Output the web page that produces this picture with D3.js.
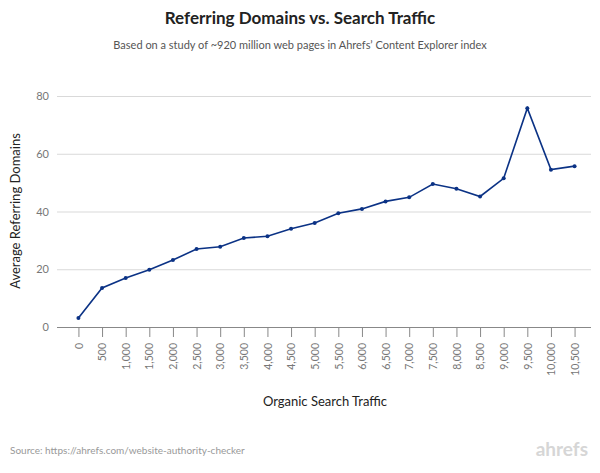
<!DOCTYPE html>
<html lang="en">
<head>
<meta charset="UTF-8">
<title>Referring Domains vs. Search Traffic</title>
<script src="https://d3js.org/d3.v7.min.js"></script>
<style>
    body { margin: 0; background: #fff; font-family: Lato, "Open Sans", sans-serif; }
</style>
</head>
<body>
<script>
    // chart data
    const traffic = [0, 500, 1000, 1500, 2000, 2500, 3000, 3500, 4000, 4500, 5000,
        5500, 6000, 6500, 7000, 7500, 8000, 8500, 9000, 9500, 10000, 10500];
    const domains = [3.1, 13.5, 17, 19.8, 23.2, 27, 27.8, 30.8, 31.4, 34, 36,
        39.4, 40.9, 43.5, 44.9, 49.5, 47.9, 45.2, 51.5, 75.8, 54.5, 55.7];
    const yTicks = [0, 20, 40, 60, 80];

    const width = 600, height = 473;
    const svg = d3.select("body").append("svg")
        .attr("width", width)
        .attr("height", height);

    const x = d3.scalePoint()
        .domain(traffic)
        .range([60, 593])
        .padding(0.78);

    const y = d3.scaleLinear()
        .domain([0, 80])
        .range([327, 96]);

    // gridlines + y labels
    svg.append("g")
        .attr("transform", "translate(57,0)")
        .call(d3.axisLeft(y).tickValues(yTicks).tickSize(-534).tickPadding(8))
        .call(g => g.select(".domain").remove())
        .call(g => g.selectAll("line").attr("stroke", "#d9d9d9"))
        .call(g => g.selectAll("text").attr("fill", "#777").style("font-size", "11px").style("font-family", "Lato"));

    // x axis
    svg.append("g")
        .attr("transform", "translate(0,327)")
        .call(d3.axisBottom(x).tickSize(10).tickPadding(6)
            .tickFormat(d => d3.format(",")(d)))
        .call(g => g.select(".domain").attr("stroke", "#888").attr("d", "M57,0.5H591"))
        .call(g => g.selectAll("line").attr("stroke", "#888"))
        .call(g => g.selectAll("text")
            .attr("fill", "#777")
            .style("font-size", "10.5px")
            .style("font-family", "Lato")
            .attr("transform", "rotate(-90)")
            .attr("text-anchor", "end")
            .attr("x", -16)
            .attr("y", 0)
            .attr("dy", "0.35em"));

    const line = d3.line()
        .x((d, i) => x(traffic[i]))
        .y(d => y(d));

    svg.append("path")
        .datum(domains)
        .attr("fill", "none")
        .attr("stroke", "#0b3285")
        .attr("stroke-width", 1.6)
        .attr("d", line);

    svg.selectAll(".dot")
        .data(domains)
        .enter()
        .append("circle")
        .attr("cx", (d, i) => x(traffic[i]))
        .attr("cy", d => y(d))
        .attr("r", 2)
        .attr("fill", "#0b3285");

    // texts
    svg.append("text")
        .attr("x", 300).attr("y", 24)
        .attr("text-anchor", "middle")
        .style("font-size", "17px").style("font-weight", "bold")
        .attr("fill", "#222")
        .text("Referring Domains vs. Search Traffic");

    svg.append("text")
        .attr("x", 300).attr("y", 49)
        .attr("text-anchor", "middle")
        .style("font-size", "11px")
        .attr("fill", "#555")
        .text("Based on a study of ~920 million web pages in Ahrefs\u2019 Content Explorer index");

    svg.append("text")
        .attr("transform", "translate(20,211) rotate(-90)")
        .attr("text-anchor", "middle")
        .style("font-size", "13px")
        .attr("fill", "#222")
        .text("Average Referring Domains");

    svg.append("text")
        .attr("x", 325).attr("y", 406)
        .attr("text-anchor", "middle")
        .style("font-size", "13px")
        .attr("fill", "#222")
        .text("Organic Search Traffic");

    svg.append("text")
        .attr("x", 10).attr("y", 454)
        .style("font-size", "10px")
        .attr("fill", "#999")
        .text("Source: https://ahrefs.com/website-authority-checker");

    svg.append("text")
        .attr("x", 588).attr("y", 456)
        .attr("text-anchor", "end")
        .style("font-size", "19px").style("font-weight", "bold")
        .attr("fill", "#d6d6d6")
        .text("ahrefs");
</script>
</body>
</html>
